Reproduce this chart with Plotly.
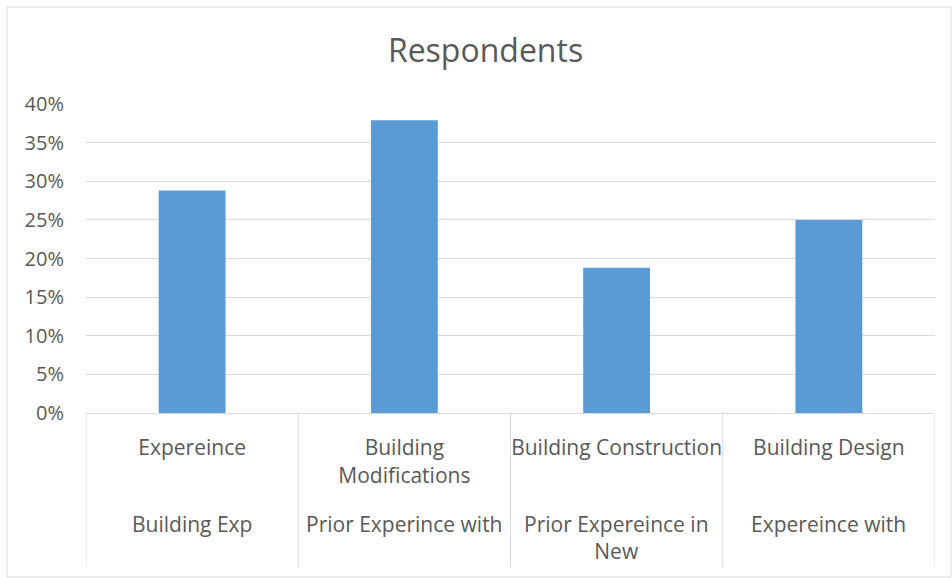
import plotly.graph_objects as go

categories = ["Expereince", "Building Modifications", "Building Construction", "Building Design"]
inner_labels = ["Expereince", "Building<br>Modifications", "Building Construction", "Building Design"]
outer_labels = ["Building Exp", "Prior Experince with", "Prior Expereince in<br>New", "Expereince with"]
values = [0.288, 0.379, 0.188, 0.25]

y_ticks = [0, 0.05, 0.10, 0.15, 0.20, 0.25, 0.30, 0.35, 0.40]

TXT = "#595959"
GRID = "#d9d9d9"
FONT = "Open Sans"

# plot area geometry (pixels) used to convert paper coordinates
PL, PR, PT, PB = 86, 935, 104, 413
PH = PB - PT
PW = PR - PL

def py(pix):
    return (PB - pix) / PH

def px(pix):
    return (pix - PL) / PW

fig = go.Figure()
fig.add_trace(go.Bar(
    x=categories,
    y=values,
    marker=dict(color="#5B9BD5", line=dict(width=0)),
    width=0.315,
    hoverinfo="skip",
))

annotations = []
for cat, lab in zip(categories, outer_labels):
    annotations.append(dict(
        x=cat, xref="x", y=py(508), yref="paper",
        text=lab, showarrow=False, xanchor="center", yanchor="top",
        font=dict(family=FONT, size=21, color=TXT), align="center",
    ))

shapes = []
n = len(categories)
for i in range(n + 1):
    shapes.append(dict(
        type="line", xref="x", yref="paper",
        x0=i - 0.5, x1=i - 0.5, y0=0, y1=py(567),
        line=dict(color=GRID, width=1),
    ))
shapes.append(dict(
    type="rect", xref="paper", yref="paper",
    x0=px(7), x1=px(951), y0=py(577), y1=py(7),
    line=dict(color=GRID, width=1), fillcolor="rgba(0,0,0,0)",
    layer="below",
))

fig.update_layout(
    width=952, height=578,
    margin=dict(l=PL, r=952 - PR, t=PT, b=578 - PB, autoexpand=False),
    paper_bgcolor="white",
    plot_bgcolor="white",
    showlegend=False,
    font=dict(family=FONT, color=TXT, size=20),
    title=dict(text="Respondents", x=0.51, xanchor="center",
               y=(578 - 51) / 578, yanchor="middle", yref="container",
               font=dict(family=FONT, size=32, color=TXT)),
    xaxis=dict(
        type="category",
        range=[-0.5, n - 0.5],
        tickvals=categories, ticktext=inner_labels,
        showline=True, linecolor=GRID, linewidth=1,
        showgrid=False, zeroline=False,
        tickfont=dict(family=FONT, size=21, color=TXT),
        ticks="", ticklabelstandoff=16,
    ),
    yaxis=dict(
        range=[0, 0.40],
        tickvals=y_ticks,
        tickformat=".0%",
        showgrid=True, gridcolor=GRID, gridwidth=1,
        zeroline=False, showline=False,
        tickfont=dict(family=FONT, size=20, color=TXT),
        ticks="", ticklabelstandoff=21,
    ),
    annotations=annotations,
    shapes=shapes,
)

fig.write_html(
    "out.html",
    config={"displayModeBar": False},
    post_script="document.body.style.margin='0';document.body.style.overflow='hidden';",
)
